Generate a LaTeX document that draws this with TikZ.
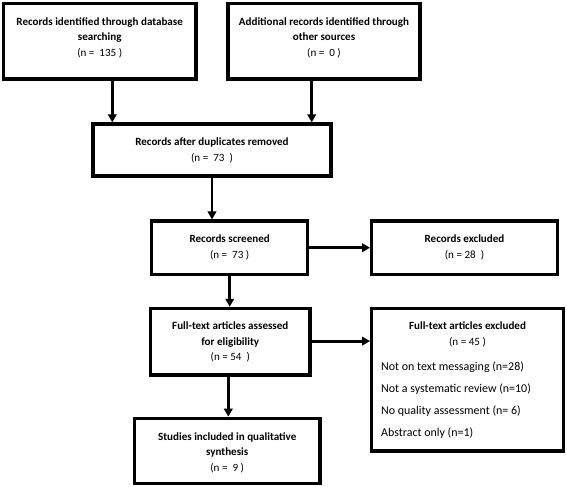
\documentclass[tikz,border=0pt]{standalone}
\usepackage{fontspec}
\setmainfont{Carlito}
\usetikzlibrary{arrows.meta}
\begin{document}
\begin{tikzpicture}[x=1bp,y=-1bp,
  box/.style={draw=black,line width=3.2bp,fill=white,inner sep=0pt,minimum width=#1},
  txt/.style={inner sep=0pt,align=center,font=\fontsize{11.1}{15.7}\selectfont,anchor=base},
  lst/.style={inner sep=0pt,align=left,font=\fontsize{12}{22}\selectfont,anchor=base west},
  arr/.style={line width=2.8bp,-{Triangle[length=8bp,width=8.5bp]}}]
\useasboundingbox (0,0) rectangle (567,487);
% boxes
\node[box=192.7bp,minimum height=75.7bp] (A) at (99.7,41.2) {};
\node[box=192bp,minimum height=75.7bp] (B) at (324,41.2) {};
\node[box=238bp,minimum height=52bp] (C) at (212,150) {};
\node[box=156bp,minimum height=53.3bp] (D) at (229.7,247.7) {};
\node[box=185.6bp,minimum height=53.3bp] (E) at (464.5,247.7) {};
\node[box=159.3bp,minimum height=66.7bp] (F) at (230.3,341.7) {};
\node[box=191.6bp,minimum height=142.7bp] (G) at (467.5,379.7) {};
\node[box=185.7bp,minimum height=65bp] (H) at (227.2,450.8) {};
% texts (anchored at the baseline of the last line)
\node[txt] (At) at (99.7,56.4) {\textbf{Records identified through database}\\\textbf{searching}\\(n =\ \ 135 )};
\node[txt] (Bt) at (324,56.4) {\textbf{Additional records identified through}\\\textbf{other sources}\\(n =\ \ 0 )};
\node[txt] (Ct) at (212,161.2) {\textbf{Records after duplicates removed}\\(n =\ \ 73\ \ )};
\node[txt] (Dt) at (229.7,258.2) {\textbf{Records screened}\\(n =\ \ 73 )};
\node[txt] (Et) at (464.5,258.2) {\textbf{Records excluded}\\(n = 28\ \ )};
\node[txt] (Ft) at (230.3,360.9) {\textbf{Full-text articles assessed}\\\textbf{for eligibility}\\(n = 54\ \ )};
\node[txt] (Gt) at (467.5,345.2) {\textbf{Full-text articles excluded}\\(n = 45 )};
\node[lst] (Gl) at (381,436.5) {Not on text messaging (n=28)\\Not a systematic review (n=10)\\No quality assessment (n= 6)\\Abstract only (n=1)};
\node[txt] (Ht) at (227.2,471.4) {\textbf{Studies included in qualitative}\\\textbf{synthesis}\\(n =\ \ 9 )};
% arrows
\draw[arr] ([xshift=12.6bp]A.south) -- ([xshift=12.6bp]A.south |- C.north);
\draw[arr] ([xshift=-12.3bp]B.south) -- ([xshift=-12.3bp]B.south |- C.north);
\draw[arr] (C.south) -- (C.south |- D.north);
\draw[arr] (D.east) -- (D.east -| E.west);
\draw[arr] (D.south) -- (D.south |- F.north);
\draw[arr] ([yshift=0.6bp]F.east) -- ([yshift=0.6bp]F.east -| G.west);
\draw[arr] ([xshift=-2bp]F.south) -- ([xshift=-2bp]F.south |- H.north);
\end{tikzpicture}
\end{document}
